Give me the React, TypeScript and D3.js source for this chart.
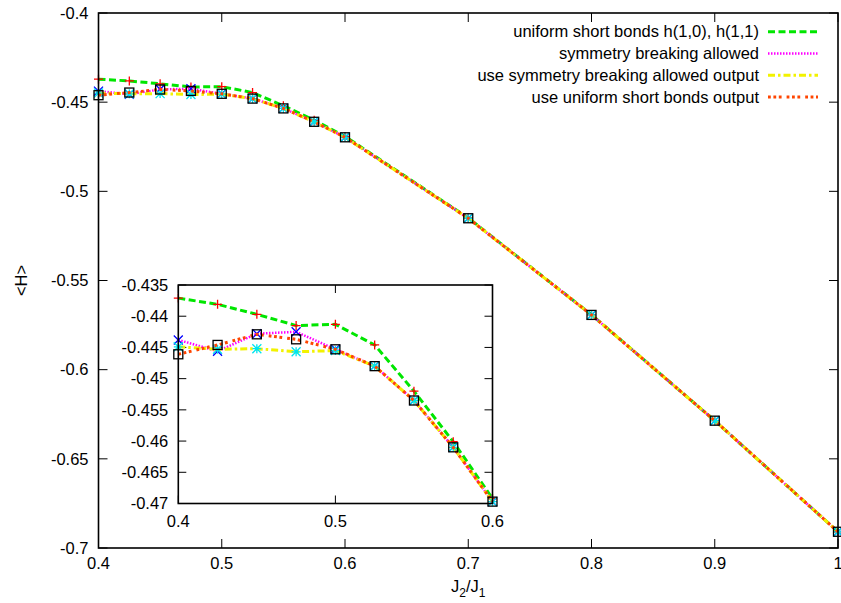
import React from "react";
import * as d3 from "d3";

const xs = [0.4, 0.425, 0.45, 0.475, 0.5, 0.525, 0.55, 0.575, 0.6, 0.7, 0.8, 0.9, 1.0];
const uniformShort = [-0.4371, -0.4381, -0.4397, -0.4415, -0.4413, -0.4446, -0.452, -0.4601, -0.4692, -0.5149, -0.5692, -0.6286, -0.6909];
const symBreaking = [-0.4438, -0.4456, -0.4428, -0.4425, -0.4453, -0.448, -0.4535, -0.461, -0.4697, -0.5151, -0.5693, -0.6286, -0.6909];
const useSymOutput = [-0.4449, -0.4453, -0.4452, -0.4457, -0.4455, -0.448, -0.4535, -0.461, -0.4697, -0.5151, -0.5693, -0.6286, -0.6909];
const useUniformOutput = [-0.4461, -0.4446, -0.4429, -0.4437, -0.4453, -0.448, -0.4535, -0.461, -0.4697, -0.5151, -0.5693, -0.6286, -0.6909];

const seriesNames = [
  "uniform short bonds h(1,0), h(1,1)",
  "symmetry breaking allowed",
  "use symmetry breaking allowed output",
  "use uniform short bonds output",
];

const mainXTicks = [0.4, 0.5, 0.6, 0.7, 0.8, 0.9, 1.0];
const mainXTickLabels = ["0.4", "0.5", "0.6", "0.7", "0.8", "0.9", "1"];
const mainYTicks = [-0.4, -0.45, -0.5, -0.55, -0.6, -0.65, -0.7];
const mainYTickLabels = ["-0.4", "-0.45", "-0.5", "-0.55", "-0.6", "-0.65", "-0.7"];
const insetXTicks = [0.4, 0.5, 0.6];
const insetXTickLabels = ["0.4", "0.5", "0.6"];
const insetYTicks = [-0.435, -0.44, -0.445, -0.45, -0.455, -0.46, -0.465, -0.47];
const insetYTickLabels = ["-0.435", "-0.44", "-0.445", "-0.45", "-0.455", "-0.46", "-0.465", "-0.47"];

const allSeries = [uniformShort, symBreaking, useSymOutput, useUniformOutput];

const lineStyles = [
  { color: "#00e600", width: 3, dash: "7,3.5" },
  { color: "#ff00ff", width: 2.5, dash: "1.5,1.5" },
  { color: "#f2f200", width: 3, dash: "7,3,2.5,3" },
  { color: "#ff4500", width: 3, dash: "2.8,2.6,2.8,2.6,2.8,5" },
];
const markerStyles = [
  { type: "plus", color: "#ff0000" },
  { type: "cross", color: "#0000ff" },
  { type: "star", color: "#00e5ee" },
  { type: "square", color: "#000000" },
];

const FONT = "'Liberation Sans', Arial, Helvetica, sans-serif";

function Marker({ type, color, x, y }: { type: string; color: string; x: number; y: number }) {
  const s = 4.5;
  const sw = 1.3;
  if (type === "plus")
    return (
      <path d={`M${x - s},${y}H${x + s}M${x},${y - s}V${y + s}`} stroke={color} strokeWidth={sw} fill="none" />
    );
  if (type === "cross")
    return (
      <path d={`M${x - s},${y - s}L${x + s},${y + s}M${x - s},${y + s}L${x + s},${y - s}`} stroke={color} strokeWidth={sw} fill="none" />
    );
  if (type === "star")
    return (
      <path
        d={`M${x - s},${y}H${x + s}M${x},${y - s}V${y + s}M${x - s},${y - s}L${x + s},${y + s}M${x - s},${y + s}L${x + s},${y - s}`}
        stroke={color}
        strokeWidth={sw}
        fill="none"
      />
    );
  return <rect x={x - s} y={y - s} width={2 * s} height={2 * s} stroke={color} strokeWidth={sw} fill="none" />;
}

function Panel({
  x0, x1, y0, y1, xDomain, yDomain, xTicks, xTickLabels, yTicks, yTickLabels, filterMax, tickLen, fontSize, xLabelOffset,
}: any) {
  const x = d3.scaleLinear().domain(xDomain).range([x0, x1]);
  const y = d3.scaleLinear().domain(yDomain).range([y0, y1]);
  const idx = xs.map((v, i) => i).filter((i) => xs[i] <= filterMax + 1e-9);
  const line = d3
    .line<number>()
    .x((i) => x(xs[i]))
    .y((i) => y(allSeries[curSeries][i]));
  let curSeries = 0;
  const clipId = `clip${Math.round(x0)}`;
  return (
    <g>
      <rect x={x0} y={y0} width={x1 - x0} height={y1 - y0} fill="#fff" />
      {/* ticks */}
      {xTicks.map((t: number, i: number) => (
        <g key={"xt" + i}>
          <line x1={x(t)} x2={x(t)} y1={y1} y2={y1 - tickLen} stroke="#000" strokeWidth={1} />
          <line x1={x(t)} x2={x(t)} y1={y0} y2={y0 + tickLen} stroke="#000" strokeWidth={1} />
          <text x={x(t)} y={y1 + xLabelOffset} textAnchor="middle" fontSize={fontSize} fontFamily={FONT} fill="#000">
            {xTickLabels[i]}
          </text>
        </g>
      ))}
      {yTicks.map((t: number, i: number) => (
        <g key={"yt" + i}>
          <line x1={x0} x2={x0 + tickLen} y1={y(t)} y2={y(t)} stroke="#000" strokeWidth={1} />
          <line x1={x1} x2={x1 - tickLen} y1={y(t)} y2={y(t)} stroke="#000" strokeWidth={1} />
          <text x={x0 - 10} y={y(t)} dy="0.35em" textAnchor="end" fontSize={fontSize} fontFamily={FONT} fill="#000">
            {yTickLabels[i]}
          </text>
        </g>
      ))}
      <clipPath id={clipId}>
        <rect x={x0 - 6} y={y0 - 6} width={x1 - x0 + 12} height={y1 - y0 + 12} />
      </clipPath>
      <g clipPath={`url(#${clipId})`}>
        {allSeries.map((s, si) => {
          curSeries = si;
          const d = line(idx) as string;
          const ls = lineStyles[si];
          const ms = markerStyles[si];
          return (
            <g key={"s" + si}>
              <path d={d} fill="none" stroke={ls.color} strokeWidth={ls.width} strokeDasharray={ls.dash} />
              {idx.map((i) => (
                <Marker key={i} type={ms.type} color={ms.color} x={x(xs[i])} y={y(s[i])} />
              ))}
            </g>
          );
        })}
      </g>
      <rect x={x0} y={y0} width={x1 - x0} height={y1 - y0} fill="none" stroke="#000" strokeWidth={1.6} />
    </g>
  );
}

export default function App() {
  const W = 841, H = 603;
  const mX0 = 98.5, mX1 = 838, mY0 = 13, mY1 = 548;
  const legendTextX = 759, legendX0 = 768, legendX1 = 818;
  const legendRows = [31.7, 53.5, 75.3, 97.1];
  return (
    <svg width={W} height={H} style={{ position: "absolute", left: 0, top: 0, background: "#fff" }}>
      <rect width={W} height={H} fill="#fff" />
      <Panel
        x0={mX0} x1={mX1} y0={mY0} y1={mY1}
        xDomain={[0.4, 1.0]} yDomain={[-0.4, -0.7]}
        xTicks={mainXTicks} xTickLabels={mainXTickLabels}
        yTicks={mainYTicks} yTickLabels={mainYTickLabels}
        filterMax={1.0} tickLen={9} fontSize={16.5} xLabelOffset={21}
      />
      {/* legend */}
      {seriesNames.map((n, i) => (
        <g key={"lg" + i}>
          <text x={legendTextX} y={legendRows[i]} dy="0.35em" textAnchor="end" fontSize={16.5} fontFamily={FONT} fill="#000">
            {n}
          </text>
          <line x1={legendX0} x2={legendX1} y1={legendRows[i]} y2={legendRows[i]} stroke={lineStyles[i].color} strokeWidth={lineStyles[i].width} strokeDasharray={lineStyles[i].dash} />
        </g>
      ))}
      {/* axis titles */}
      <text transform={`translate(21,${(mY0 + mY1) / 2}) rotate(-90)`} textAnchor="middle" dy="0.35em" fontSize={16.5} fontFamily={FONT} fill="#000">
        {"<H>"}
      </text>
      <text x={(mX0 + mX1) / 2} y={592} textAnchor="middle" fontSize={16.5} fontFamily={FONT} fill="#000">
        J<tspan dy="5" fontSize={12}>2</tspan>
        <tspan dy="-5">/J</tspan>
        <tspan dy="5" fontSize={12}>1</tspan>
      </text>
      {/* inset */}
      <Panel
        x0={178.3} x1={492.5} y0={285} y1={503.5}
        xDomain={[0.4, 0.6]} yDomain={[-0.435, -0.47]}
        xTicks={insetXTicks} xTickLabels={insetXTickLabels}
        yTicks={insetYTicks} yTickLabels={insetYTickLabels}
        filterMax={0.6} tickLen={8} fontSize={16.5} xLabelOffset={23}
      />
    </svg>
  );
}
